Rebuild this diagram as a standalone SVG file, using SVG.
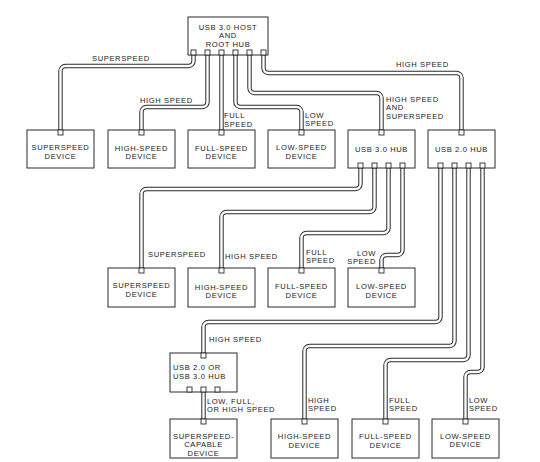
<svg xmlns="http://www.w3.org/2000/svg" xmlns:xlink="http://www.w3.org/1999/xlink" width="540" height="462" viewBox="0 0 540 462">
<style>
.box{fill:#fff;stroke:#2a2a2a;stroke-width:1}
.port{fill:#fff;stroke:#2a2a2a;stroke-width:0.9}
.co{fill:none;stroke:#2a2a2a;stroke-width:4.4}
.ci{fill:none;stroke:#fff;stroke-width:2.4}
text{font-family:"Liberation Sans",Arial,sans-serif;font-size:7.6px;fill:#222;letter-spacing:0.6px}
.c{text-anchor:middle}
.e{text-anchor:end}
</style>
<defs>
<path id="p1" d="M193.5,55 V61 a5,5 0 0 1 -5,5 H65.5 a5,5 0 0 0 -5,5 V130"/>
<path id="p2" d="M207.5,55 V102 a5,5 0 0 1 -5,5 H146.5 a5,5 0 0 0 -5,5 V130"/>
<path id="p3" d="M221.5,55 V130"/>
<path id="p4" d="M235.5,55 V102 a5,5 0 0 0 5,5 H296.5 a5,5 0 0 1 5,5 V130"/>
<path id="p5" d="M249.5,55 V88 a5,5 0 0 0 5,5 H376.5 a5,5 0 0 1 5,5 V130"/>
<path id="p6" d="M263.5,55 V68 a5,5 0 0 0 5,5 H456.5 a5,5 0 0 1 5,5 V130"/>
<path id="d1" d="M360.5,168 V184 a5,5 0 0 1 -5,5 H146.5 a5,5 0 0 0 -5,5 V268"/>
<path id="d2" d="M374.5,168 V207 a5,5 0 0 1 -5,5 H226.5 a5,5 0 0 0 -5,5 V268"/>
<path id="d3" d="M388.5,168 V228 a5,5 0 0 1 -5,5 H306.5 a5,5 0 0 0 -5,5 V268"/>
<path id="d4" d="M402.5,168 V250 a5,5 0 0 1 -5,5 H386.5 a5,5 0 0 0 -5,5 V268"/>
<path id="e1" d="M440.5,168 V317 a5,5 0 0 1 -5,5 H208.5 a5,5 0 0 0 -5,5 V353"/>
<path id="e2" d="M454.5,168 V341 a5,5 0 0 1 -5,5 H309.5 a5,5 0 0 0 -5,5 V419"/>
<path id="e3" d="M468.5,168 V355 a5,5 0 0 1 -5,5 H390.5 a5,5 0 0 0 -5,5 V419"/>
<path id="e4" d="M482.5,168 V367 a5,5 0 0 1 -5,5 H470.5 a5,5 0 0 0 -5,5 V419"/>
<path id="f1" d="M203.5,392 V419"/>
</defs>

<g id="connectors">
<use href="#p1" class="co"/><use href="#p1" class="ci"/>
<use href="#p2" class="co"/><use href="#p2" class="ci"/>
<use href="#p3" class="co"/><use href="#p3" class="ci"/>
<use href="#p4" class="co"/><use href="#p4" class="ci"/>
<use href="#p5" class="co"/><use href="#p5" class="ci"/>
<use href="#p6" class="co"/><use href="#p6" class="ci"/>
<use href="#d1" class="co"/><use href="#d1" class="ci"/>
<use href="#d2" class="co"/><use href="#d2" class="ci"/>
<use href="#d3" class="co"/><use href="#d3" class="ci"/>
<use href="#d4" class="co"/><use href="#d4" class="ci"/>
<use href="#e1" class="co"/><use href="#e1" class="ci"/>
<use href="#e2" class="co"/><use href="#e2" class="ci"/>
<use href="#e3" class="co"/><use href="#e3" class="ci"/>
<use href="#e4" class="co"/><use href="#e4" class="ci"/>
<use href="#f1" class="co"/><use href="#f1" class="ci"/>
<text x="92" y="61">SUPERSPEED</text>
<text x="140" y="103">HIGH SPEED</text>
<text x="224" y="118">FULL</text><text x="224" y="126.5">SPEED</text>
<text x="305" y="117.5">LOW</text><text x="305" y="126">SPEED</text>
<text x="386" y="101.5">HIGH SPEED</text><text x="386" y="110">AND</text><text x="386" y="118.5">SUPERSPEED</text>
<text x="396" y="67">HIGH SPEED</text>
<text x="148" y="257">SUPERSPEED</text>
<text x="225" y="259">HIGH SPEED</text>
<text x="306" y="254.5">FULL</text><text x="306" y="263">SPEED</text>
<text x="376" y="255.5" class="e">LOW</text><text x="376" y="264" class="e">SPEED</text>
<text x="209" y="342">HIGH SPEED</text>
<text x="207" y="403.5">LOW, FULL,</text><text x="207" y="412">OR HIGH SPEED</text>
<text x="308" y="402.5">HIGH</text><text x="308" y="411">SPEED</text>
<text x="389" y="402.5">FULL</text><text x="389" y="411">SPEED</text>
<text x="469" y="402.5">LOW</text><text x="469" y="411">SPEED</text>
</g>

<g id="root-hub">
<rect class="box" x="188" y="17" width="80" height="38"/>
<text x="228" y="29.5" class="c">USB 3.0 HOST</text>
<text x="228" y="38" class="c">AND</text>
<text x="228" y="46.5" class="c">ROOT HUB</text>
<rect class="port" x="191" y="50" width="5" height="5"/>
<rect class="port" x="205" y="50" width="5" height="5"/>
<rect class="port" x="219" y="50" width="5" height="5"/>
<rect class="port" x="233" y="50" width="5" height="5"/>
<rect class="port" x="247" y="50" width="5" height="5"/>
<rect class="port" x="261" y="50" width="5" height="5"/>
</g>

<g id="ss-device-1">
<rect class="box" x="27" y="130" width="67" height="38"/>
<rect class="port" x="58" y="130" width="5" height="5"/>
<text x="60.5" y="150" class="c">SUPERSPEED</text><text x="60.5" y="158.5" class="c">DEVICE</text>
</g>
<g id="hs-device-1">
<rect class="box" x="108" y="130" width="67" height="38"/>
<rect class="port" x="139" y="130" width="5" height="5"/>
<text x="141.5" y="150.5" class="c">HIGH-SPEED</text><text x="141.5" y="159" class="c">DEVICE</text>
</g>
<g id="fs-device-1">
<rect class="box" x="188" y="130" width="67" height="38"/>
<rect class="port" x="219" y="130" width="5" height="5"/>
<text x="221.5" y="150.5" class="c">FULL-SPEED</text><text x="221.5" y="159" class="c">DEVICE</text>
</g>
<g id="ls-device-1">
<rect class="box" x="268" y="130" width="67" height="38"/>
<rect class="port" x="299" y="130" width="5" height="5"/>
<text x="301.5" y="150" class="c">LOW-SPEED</text><text x="301.5" y="158.5" class="c">DEVICE</text>
</g>
<g id="usb3-hub">
<rect class="box" x="348" y="130" width="67" height="38"/>
<rect class="port" x="379" y="130" width="5" height="5"/>
<text x="381.5" y="151.5" class="c">USB 3.0 HUB</text>
<rect class="port" x="358" y="163" width="5" height="5"/>
<rect class="port" x="372" y="163" width="5" height="5"/>
<rect class="port" x="386" y="163" width="5" height="5"/>
<rect class="port" x="400" y="163" width="5" height="5"/>
</g>
<g id="usb2-hub">
<rect class="box" x="428" y="130" width="67" height="38"/>
<rect class="port" x="459" y="130" width="5" height="5"/>
<text x="461.5" y="151.5" class="c">USB 2.0 HUB</text>
<rect class="port" x="438" y="163" width="5" height="5"/>
<rect class="port" x="452" y="163" width="5" height="5"/>
<rect class="port" x="466" y="163" width="5" height="5"/>
<rect class="port" x="480" y="163" width="5" height="5"/>
</g>

<g id="ss-device-2">
<rect class="box" x="108" y="268" width="67" height="39"/>
<rect class="port" x="139" y="268" width="5" height="5"/>
<text x="141.5" y="288" class="c">SUPERSPEED</text><text x="141.5" y="296.5" class="c">DEVICE</text>
</g>
<g id="hs-device-2">
<rect class="box" x="188" y="268" width="67" height="39"/>
<rect class="port" x="219" y="268" width="5" height="5"/>
<text x="221.5" y="289.5" class="c">HIGH-SPEED</text><text x="221.5" y="298" class="c">DEVICE</text>
</g>
<g id="fs-device-2">
<rect class="box" x="268" y="268" width="67" height="39"/>
<rect class="port" x="299" y="268" width="5" height="5"/>
<text x="301.5" y="289" class="c">FULL-SPEED</text><text x="301.5" y="297.5" class="c">DEVICE</text>
</g>
<g id="ls-device-2">
<rect class="box" x="348" y="268" width="67" height="39"/>
<rect class="port" x="379" y="268" width="5" height="5"/>
<text x="381.5" y="289" class="c">LOW-SPEED</text><text x="381.5" y="297.5" class="c">DEVICE</text>
</g>

<g id="usb2-or-usb3-hub">
<rect class="box" x="170" y="353" width="67" height="39"/>
<rect class="port" x="201" y="353" width="5" height="5"/>
<text x="173" y="370">USB 2.0 OR</text>
<text x="173" y="378.5">USB 3.0 HUB</text>
<rect class="port" x="187" y="387" width="5" height="5"/>
<rect class="port" x="201" y="387" width="5" height="5"/>
<rect class="port" x="215" y="387" width="5" height="5"/>
</g>
<g id="ss-capable-device">
<rect class="box" x="170" y="419" width="67" height="39"/>
<rect class="port" x="201" y="419" width="5" height="5"/>
<text x="203.5" y="438.5" class="c">SUPERSPEED-</text><text x="203.5" y="447" class="c">CAPABLE</text><text x="203.5" y="455.5" class="c">DEVICE</text>
</g>
<g id="hs-device-3">
<rect class="box" x="271" y="419" width="67" height="39"/>
<rect class="port" x="302" y="419" width="5" height="5"/>
<text x="304.5" y="439" class="c">HIGH-SPEED</text><text x="304.5" y="447.5" class="c">DEVICE</text>
</g>
<g id="fs-device-3">
<rect class="box" x="352" y="419" width="67" height="39"/>
<rect class="port" x="383" y="419" width="5" height="5"/>
<text x="385.5" y="439" class="c">FULL-SPEED</text><text x="385.5" y="447.5" class="c">DEVICE</text>
</g>
<g id="ls-device-3">
<rect class="box" x="432" y="419" width="67" height="39"/>
<rect class="port" x="463" y="419" width="5" height="5"/>
<text x="465.5" y="438.5" class="c">LOW-SPEED</text><text x="465.5" y="447" class="c">DEVICE</text>
</g>
</svg>
